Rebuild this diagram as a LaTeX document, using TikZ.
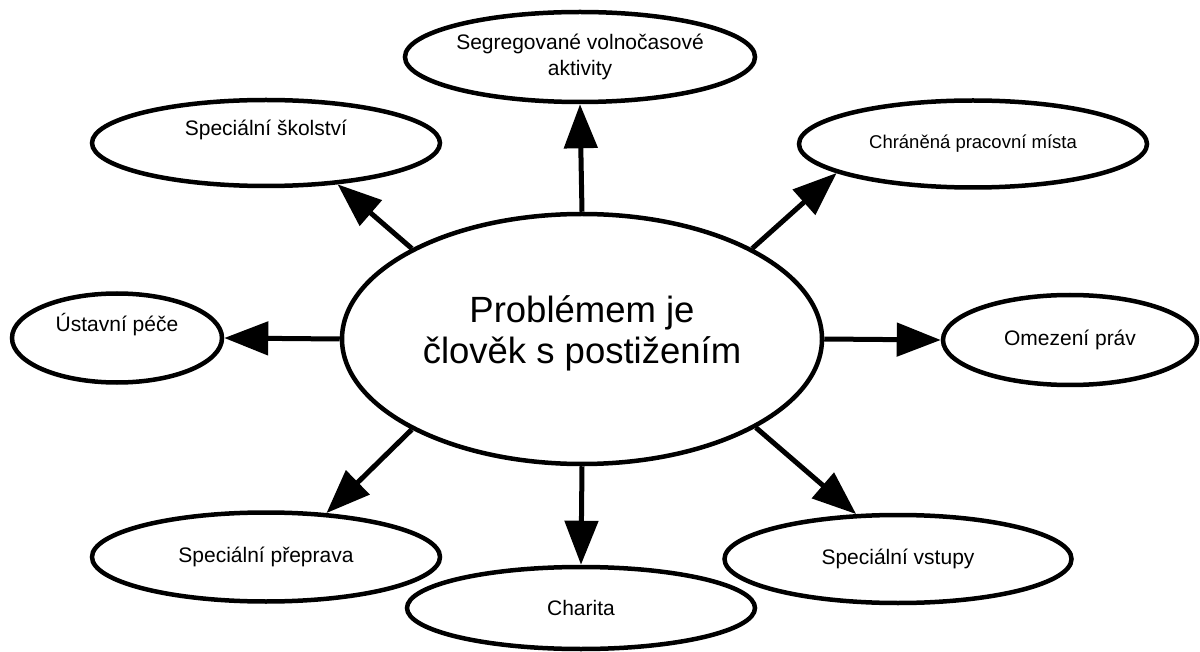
\documentclass[tikz,border=0pt]{standalone}
\usepackage{fontspec}
\setmainfont{Liberation Sans}
\usepackage{tikz}
\usetikzlibrary{shapes,arrows.meta,positioning}

\begin{document}
\begin{tikzpicture}[x=1pt, y=-1pt, >={Triangle[length=44pt,width=33pt]},
        bubble/.style={draw, ellipse, line width=4.5pt, inner sep=0pt, align=center, font=\fontsize{21}{26}\selectfont},
        bubbletext/.style={inner sep=0pt, font=\fontsize{21}{26}\selectfont},
        link/.style={->, line width=5pt}]
        \useasboundingbox (0,0) rectangle (1200,652);

        % Central problem
        \node[bubble, minimum width=480pt, minimum height=250pt,
            label={[bubbletext, align=center, font=\fontsize{36.5}{41}\selectfont, yshift=6pt]center:{Problémem je\\člověk s postižením}}] (prob) at (582,339) {};

        % Surrounding consequences
        \node[bubble, minimum width=348pt, minimum height=90pt] (segr) at (580,57) {Segregované volnočasové\\aktivity};
        \node[bubble, minimum width=348pt, minimum height=86pt, label={[bubbletext, yshift=13pt]center:Speciální školství}] (skol) at (266,143) {};
        \node[bubble, minimum width=348pt, minimum height=87pt, font=\fontsize{18.5}{22}\selectfont] (chran) at (973,144) {Chráněná pracovní místa};
        \node[bubble, minimum width=210pt, minimum height=89pt, label={[bubbletext, yshift=13pt]center:Ústavní péče}] (ustav) at (117,338) {};
        \node[bubble, minimum width=254pt, minimum height=90pt] (omez) at (1070,340) {Omezení práv};
        \node[bubble, minimum width=348pt, minimum height=89pt] (prepr) at (266,557) {Speciální přeprava};
        \node[bubble, minimum width=348pt, minimum height=82pt] (charita) at (581,608) {Charita};
        \node[bubble, minimum width=347pt, minimum height=88pt] (vstup) at (898,559) {Speciální vstupy};

        % Arrows out of the centre
        \draw[link] (prob.90) -- (segr.-90);
        \draw[link] (prob.152) -- (skol.-30);
        \draw[link] (prob.28) -- (chran.-168);
        \draw[link] (prob.180) -- (ustav.0);
        \draw[link] (prob.0) -- (omez.180);
        \draw[link] (prob.208) -- (prepr.36);
        \draw[link] (prob.-90) -- (charita.90);
        \draw[link] (prob.-27) -- (vstup.133);
    \end{tikzpicture}
\end{document}
